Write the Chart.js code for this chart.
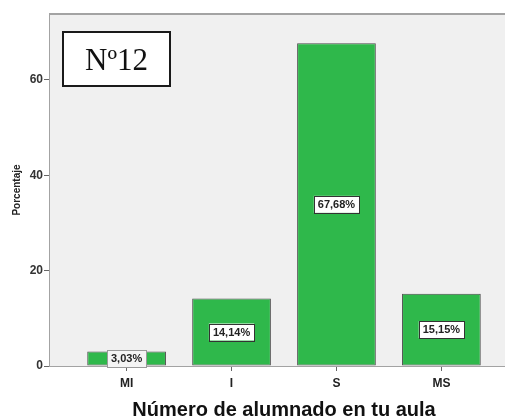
<!DOCTYPE html>
<html>
<head>
<meta charset="utf-8">
<script src="https://cdn.jsdelivr.net/npm/chart.js@4"></script>
<style>
html,body{margin:0;padding:0;background:#fff;overflow:hidden;width:505px;height:419px;}
#wrap{width:520px;height:419px;}
</style>
</head>
<body>
<div id="wrap"><canvas id="c" width="520" height="419"></canvas></div>
<script>
const categories = ['MI', 'I', 'S', 'MS'];
const values = [3.03, 14.14, 67.68, 15.15];
const valueLabels = ['3,03%', '14,14%', '67,68%', '15,15%'];
const yTicks = [0, 20, 40, 60];
const chartTag = 'Nº12';
const yTitle = 'Porcentaje';
const xTitle = 'Número de alumnado en tu aula';

const axisGray = '#a3a3a3';

const framePlugin = {
  id: 'frame',
  beforeDatasetsDraw(chart) {
    const {ctx, chartArea: a} = chart;
    ctx.save();
    ctx.fillStyle = '#f0f0f0';
    ctx.fillRect(a.left, a.top, a.right - a.left, a.bottom - a.top);
    ctx.strokeStyle = axisGray;
    ctx.lineWidth = 2;
    ctx.beginPath();
    ctx.moveTo(a.left, a.top);
    ctx.lineTo(a.right + 10, a.top);
    ctx.stroke();
    ctx.restore();
  },
  afterDatasetsDraw(chart) {
    const {ctx} = chart;
    const meta = chart.getDatasetMeta(0);
    ctx.save();
    ctx.font = 'bold 11px "Liberation Sans", Arial, sans-serif';
    ctx.textAlign = 'center';
    ctx.textBaseline = 'middle';
    meta.data.forEach((bar, i) => {
      const cx = bar.x;
      const cy = (bar.y + bar.base) / 2;
      const txt = valueLabels[i];
      const w = ctx.measureText(txt).width + 8;
      const h = 17;
      const first = i === 0;
      ctx.fillStyle = first ? '#f4f4f4' : '#ffffff';
      ctx.fillRect(cx - w / 2, cy - h / 2, w, h);
      ctx.strokeStyle = first ? '#9a9a9a' : '#333333';
      ctx.lineWidth = 1;
      ctx.strokeRect(Math.round(cx - w / 2) + 0.5, Math.round(cy - h / 2) + 0.5, Math.round(w), h);
      ctx.fillStyle = '#222';
      ctx.fillText(txt, cx, cy + 0.5);
    });
    // tag box
    const bx = 63, by = 32, bw = 107, bh = 54;
    ctx.fillStyle = '#fff';
    ctx.fillRect(bx, by, bw, bh);
    ctx.strokeStyle = '#1a1a1a';
    ctx.lineWidth = 2;
    ctx.strokeRect(bx, by, bw, bh);
    ctx.fillStyle = '#111';
    ctx.font = '31px "Liberation Serif", "Times New Roman", serif';
    ctx.textBaseline = 'alphabetic';
    ctx.fillText(chartTag, bx + bw / 2, by + 38);
    ctx.restore();
  }
};

new Chart(document.getElementById('c'), {
  type: 'bar',
  data: {
    datasets: [{
      data: categories.map((c, i) => ({x: i, y: values[i]})),
      backgroundColor: '#2fb84b',
      borderColor: '#4a4a4a',
      borderWidth: 1,
      borderSkipped: false,
      barPercentage: 0.75,
      categoryPercentage: 1.0
    }]
  },
  options: {
    responsive: false,
    animation: false,
    devicePixelRatio: 1,
    layout: {padding: {top: 14, right: 2, left: 0, bottom: 0}},
    plugins: {legend: {display: false}, tooltip: {enabled: false}},
    scales: {
      x: {
        type: 'linear',
        min: -0.73,
        max: 3.73,
        offset: false,
        afterBuildTicks(scale) {
          scale.ticks = categories.map((c, i) => ({value: i}));
        },
        afterFit(scale) { scale.height = 53; },
        grid: {offset: false, drawOnChartArea: false, drawTicks: true, tickLength: 5, color: '#666', lineWidth: 1},
        border: {display: true, color: axisGray, width: 2},
        ticks: {
          padding: 5,
          color: '#222',
          font: {family: '"Liberation Sans", Arial, sans-serif', size: 12, weight: 'bold'},
          callback: (v) => categories[v] ?? ''
        },
        title: {
          display: true,
          text: xTitle,
          color: '#111',
          font: {family: '"Liberation Sans", Arial, sans-serif', size: 20, weight: 'bold', lineHeight: 0.9},
          padding: {top: 4, bottom: 0}
        }
      },
      y: {
        min: 0,
        max: 73.8,
        afterBuildTicks(scale) {
          scale.ticks = yTicks.map(v => ({value: v}));
        },
        afterFit(scale) { scale.width = 50; },
        grid: {drawOnChartArea: false, drawTicks: true, tickLength: 6, color: '#666', lineWidth: 1},
        border: {display: true, color: axisGray, width: 2},
        ticks: {
          padding: 1,
          color: '#333',
          font: {family: '"Liberation Sans", Arial, sans-serif', size: 12, weight: 'bold'}
        },
        title: {
          display: true,
          text: yTitle,
          color: '#222',
          font: {family: '"Liberation Sans", Arial, sans-serif', size: 10, weight: 'bold'},
          padding: {top: 11, bottom: 10}
        }
      }
    }
  },
  plugins: [framePlugin]
});
</script>
</body>
</html>
